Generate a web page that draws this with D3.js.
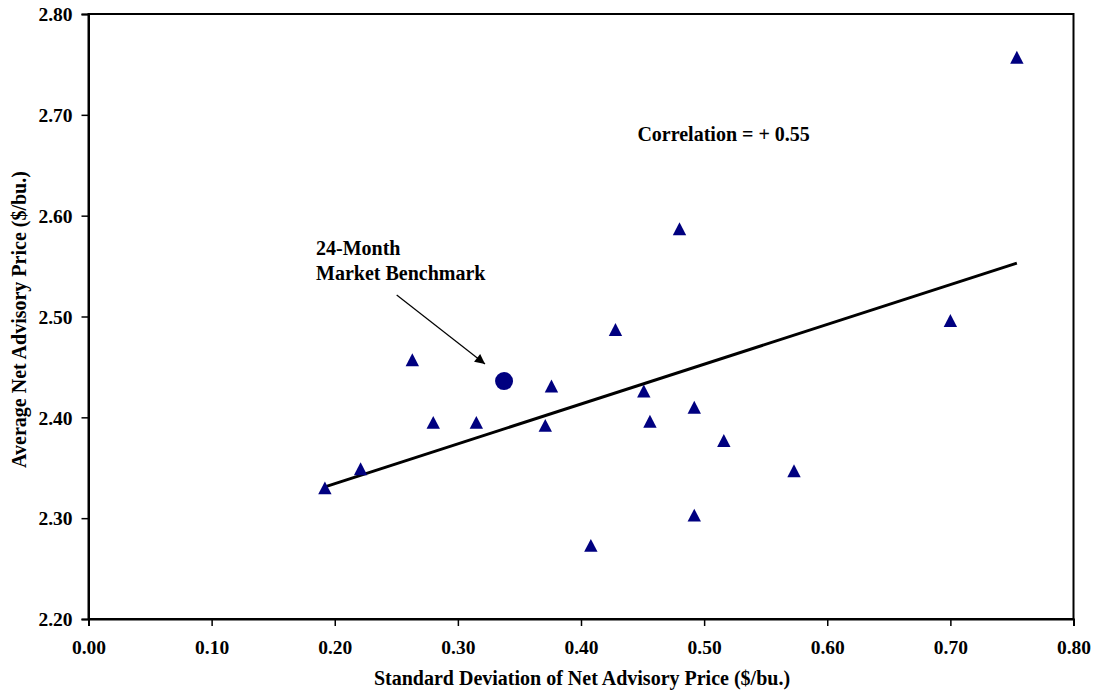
<!DOCTYPE html>
<html>
<head>
<meta charset="utf-8">
<script src="https://cdn.jsdelivr.net/npm/d3@7"></script>
<style>
  html, body { margin: 0; padding: 0; background: #fff; }
  svg { display: block; }
  text { font-family: "Liberation Serif", "Times New Roman", serif; font-weight: bold; fill: #000; }
</style>
</head>
<body>
<svg id="chart" width="1097" height="696"></svg>
<script>
// ---- Data ----
const advisoryStdDev = [0.192, 0.221, 0.263, 0.280, 0.315, 0.371, 0.376, 0.408, 0.428, 0.451, 0.456, 0.480, 0.492, 0.492, 0.516, 0.573, 0.700, 0.754];
const advisoryAvgPrice = [2.330, 2.349, 2.457, 2.395, 2.395, 2.392, 2.431, 2.273, 2.487, 2.426, 2.396, 2.587, 2.410, 2.303, 2.377, 2.347, 2.496, 2.757];
const benchmarkStdDev = [0.3375];
const benchmarkAvgPrice = [2.436];
const trendStdDev = [0.192, 0.754];
const trendAvgPrice = [2.331, 2.553];
const xTicks = [0.00, 0.10, 0.20, 0.30, 0.40, 0.50, 0.60, 0.70, 0.80];
const yTicks = [2.20, 2.30, 2.40, 2.50, 2.60, 2.70, 2.80];
const xTitle = "Standard Deviation of Net Advisory Price ($/bu.)";
const yTitle = "Average Net Advisory Price ($/bu.)";
const correlationLabel = "Correlation = + 0.55";
const benchmarkLabel = ["24-Month", "Market Benchmark"];

// ---- Layout ----
const svg = d3.select("#chart");
const L = 88.5, R = 1073.5, T = 14, B = 619;
const x = d3.scaleLinear().domain([0, 0.8]).range([L, R]);
const y = d3.scaleLinear().domain([2.2, 2.8]).range([B, T]);
const navy = "#000080";

// frame
svg.append("rect")
  .attr("x", L).attr("y", T).attr("width", R - L).attr("height", B - T)
  .attr("fill", "none").attr("stroke", "#000").attr("stroke-width", 2);

// x axis
const xAxis = d3.axisBottom(x).tickValues(xTicks).tickFormat(d3.format(".2f")).tickSize(7).tickPadding(0);
const gx = svg.append("g").attr("transform", `translate(0,${B})`).call(xAxis);
gx.select(".domain").attr("stroke-width", 2);
gx.selectAll(".tick line").attr("stroke-width", 1.5);
gx.selectAll(".tick text").attr("dy", null).attr("y", 35).style("font-size", "19.5px")
  .style("font-family", '"Liberation Serif", serif').style("font-weight", "bold");

// y axis
const yAxis = d3.axisLeft(y).tickValues(yTicks).tickFormat(d3.format(".2f")).tickSize(7).tickPadding(9);
const gy = svg.append("g").attr("transform", `translate(${L},0)`).call(yAxis);
gy.select(".domain").attr("stroke-width", 2);
gy.selectAll(".tick line").attr("stroke-width", 1.5);
gy.selectAll(".tick text").attr("dy", "0.35em").style("font-size", "19.5px")
  .style("font-family", '"Liberation Serif", serif').style("font-weight", "bold");

// axis titles
svg.append("text").attr("x", (L + R) / 2 + 1).attr("y", 685)
  .attr("text-anchor", "middle").style("font-size", "20px").text(xTitle);
svg.append("text").attr("transform", `translate(26,${(T + B) / 2 + 3}) rotate(-90)`)
  .attr("text-anchor", "middle").style("font-size", "20px").text(yTitle);

// trend line
svg.append("line")
  .attr("x1", x(trendStdDev[0])).attr("y1", y(trendAvgPrice[0]))
  .attr("x2", x(trendStdDev[1])).attr("y2", y(trendAvgPrice[1]))
  .attr("stroke", "#000").attr("stroke-width", 3);

// triangles
const tri = "M0,-6.5L6.7,6.4L-6.7,6.4Z";
svg.append("g").selectAll("path").data(advisoryStdDev.map((v, i) => [v, advisoryAvgPrice[i]]))
  .join("path")
  .attr("d", tri)
  .attr("transform", d => `translate(${x(d[0])},${y(d[1])})`)
  .attr("fill", navy);

// benchmark circle
svg.append("g").selectAll("circle").data(benchmarkStdDev.map((v, i) => [v, benchmarkAvgPrice[i]]))
  .join("circle")
  .attr("cx", d => x(d[0])).attr("cy", d => y(d[1])).attr("r", 9)
  .attr("fill", navy);

// correlation label
svg.append("text").attr("x", x(0.4458)).attr("y", 140.5)
  .style("font-size", "20px").text(correlationLabel);

// benchmark annotation
const ann = svg.append("text").style("font-size", "20px");
ann.append("tspan").attr("x", 316).attr("y", 255).text(benchmarkLabel[0]);
ann.append("tspan").attr("x", 316).attr("y", 280).text(benchmarkLabel[1]);

// arrow
svg.append("defs").append("marker")
  .attr("id", "arr").attr("viewBox", "0 0 10 10").attr("refX", 10).attr("refY", 5)
  .attr("markerWidth", 14).attr("markerHeight", 10).attr("markerUnits", "userSpaceOnUse")
  .attr("orient", "auto")
  .append("path").attr("d", "M0,0L10,5L0,10Z").attr("fill", "#000");
svg.append("line")
  .attr("x1", 396.7).attr("y1", 295).attr("x2", 485).attr("y2", 364)
  .attr("stroke", "#000").attr("stroke-width", 1.2).attr("marker-end", "url(#arr)");
</script>
</body>
</html>
